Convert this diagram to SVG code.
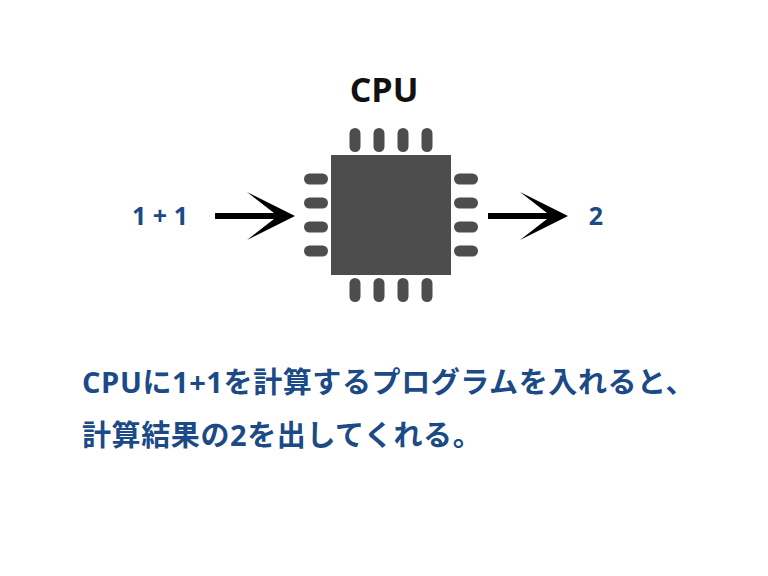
<svg xmlns="http://www.w3.org/2000/svg" width="768" height="576" viewBox="0 0 768 576">
<style>
.pin{fill:#4d4d4d}
.blue{fill:#1b4a86;font-family:"Open Sans","Noto Sans CJK JP",sans-serif;font-weight:bold}
.arr{fill:#000}
</style>
<rect width="768" height="576" fill="#fff"/>
<text x="384" y="102" text-anchor="middle" font-family="'Open Sans',sans-serif" font-weight="bold" font-size="34" fill="#111">CPU</text>
<g id="cpu">
<rect x="331" y="155" width="120" height="120" fill="#4d4d4d"/>
<g class="pin">
<rect x="349.5" y="128" width="11" height="24" rx="5.5"/><rect x="373.5" y="128" width="11" height="24" rx="5.5"/><rect x="397.5" y="128" width="11" height="24" rx="5.5"/><rect x="421.5" y="128" width="11" height="24" rx="5.5"/>
<rect x="349.5" y="278" width="11" height="24" rx="5.5"/><rect x="373.5" y="278" width="11" height="24" rx="5.5"/><rect x="397.5" y="278" width="11" height="24" rx="5.5"/><rect x="421.5" y="278" width="11" height="24" rx="5.5"/>
<rect x="304" y="173.5" width="24" height="11" rx="5.5"/><rect x="304" y="197.5" width="24" height="11" rx="5.5"/><rect x="304" y="221.5" width="24" height="11" rx="5.5"/><rect x="304" y="245.5" width="24" height="11" rx="5.5"/>
<rect x="454" y="173.5" width="24" height="11" rx="5.5"/><rect x="454" y="197.5" width="24" height="11" rx="5.5"/><rect x="454" y="221.5" width="24" height="11" rx="5.5"/><rect x="454" y="245.5" width="24" height="11" rx="5.5"/>
</g>
</g>
<g id="input"><text class="blue" x="160" y="225" text-anchor="middle" font-size="25">1 + 1</text></g>
<g id="output"><text class="blue" x="596" y="225" text-anchor="middle" font-size="25">2</text></g>
<g id="connectors">
<path class="arr" d="M215,213 H274 L247,192 L295,216 L247,240 L274,219 H215 Z"/>
<path class="arr" d="M488,213 H547 L520,192 L568,216 L520,240 L547,219 H488 Z"/>
</g>
<text class="blue" x="82" y="393" font-size="29" letter-spacing="0.6">CPUに1+1を計算するプログラムを入れると、</text>
<text class="blue" x="82" y="446" font-size="29" letter-spacing="0.6">計算結果の2を出してくれる。</text>
</svg>
